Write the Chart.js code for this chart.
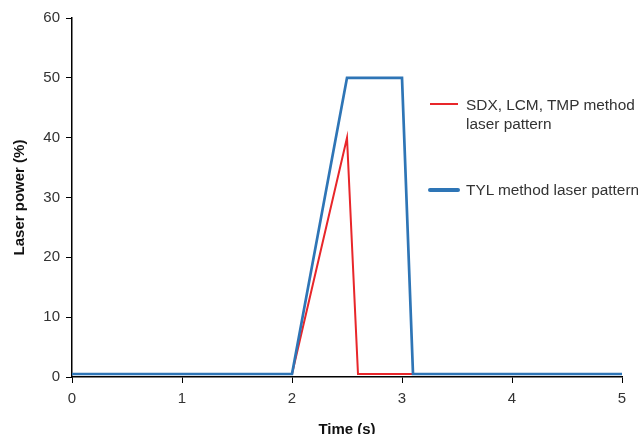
<!DOCTYPE html>
<html>
<head>
<meta charset="utf-8">
<script src="https://cdn.jsdelivr.net/npm/chart.js@4.4.1/dist/chart.umd.min.js"></script>
<style>
    html, body { margin: 0; padding: 0; background: #fff; overflow: hidden; }
    #wrap { position: relative; width: 638px; height: 434px; overflow: hidden; }
    .leg { position: absolute; font: 15.4px "Liberation Sans", Arial, sans-serif; color: #333; white-space: nowrap; line-height: 19px; }
    .swatch { position: absolute; }
</style>
</head>
<body>
<div id="wrap">
    <canvas id="chart" width="638" height="434"></canvas>
    <div class="swatch" style="left:430px; top:103px; width:28px; height:2px; background:#e8262a;"></div>
    <div class="leg" style="left:466px; top:95px;">SDX, LCM, TMP method<br>laser pattern</div>
    <div class="swatch" style="left:428px; top:188px; width:32px; height:4px; border-radius:2px; background:#2e75b6;"></div>
    <div class="leg" style="left:466px; top:180px;">TYL method laser pattern</div>
</div>
<script>
// 데이터 (시간 s, 레이저 출력 %)
const redTime = [0, 2, 2.5, 2.6, 3.1, 5];
const redPower = [0.5, 0.5, 40, 0.5, 0.5, 0.5];
const blueTime = [0, 2, 2.5, 3, 3.1, 5];
const bluePower = [0.5, 0.5, 50, 50, 0.5, 0.5];
const xTicks = [0, 1, 2, 3, 4, 5];
const yTicks = [0, 10, 20, 30, 40, 50, 60];

function toPoints(xs, ys) {
    return xs.map(function (x, i) { return { x: x, y: ys[i] }; });
}

const tickFont = { family: '"Liberation Sans", Arial, sans-serif', size: 15 };
const titleFont = { family: '"Liberation Sans", Arial, sans-serif', size: 15, weight: 'bold' };

// 파란 선이 위에 그려지도록 order 사용
const data = {
    datasets: [
        {
            label: 'SDX, LCM, TMP method laser pattern',
            data: toPoints(redTime, redPower),
            showLine: true,
            borderColor: '#e8262a',
            borderWidth: 2,
            pointRadius: 0,
            tension: 0,
            order: 2,
        },
        {
            label: 'TYL method laser pattern',
            data: toPoints(blueTime, bluePower),
            showLine: true,
            borderColor: '#2e75b6',
            borderWidth: 2.7,
            pointRadius: 0,
            tension: 0,
            order: 1,
        }
    ]
};

const config = {
    type: 'scatter',
    data: data,
    options: {
        responsive: false,
        animation: false,
        layout: {
            padding: { top: 18, right: 16, left: 0, bottom: 0 }
        },
        plugins: {
            legend: { display: false },
            tooltip: { enabled: false },
        },
        scales: {
            x: {
                type: 'linear',
                min: xTicks[0],
                max: xTicks[xTicks.length - 1],
                afterBuildTicks: function (scale) {
                    scale.ticks = xTicks.map(function (v) { return { value: v }; });
                },
                afterFit: function (scale) { scale.height = 57; },
                border: { display: true, color: '#000', width: 1.5 },
                grid: { drawOnChartArea: false, drawTicks: true, tickLength: 6, color: '#000' },
                ticks: { color: '#333', font: tickFont, padding: 7, maxRotation: 0 },
                title: {
                    display: true,
                    text: 'Time (s)',
                    color: '#111',
                    font: titleFont,
                    padding: { top: 0, bottom: -5 },
                },
            },
            y: {
                min: yTicks[0],
                max: yTicks[yTicks.length - 1],
                afterBuildTicks: function (scale) {
                    scale.ticks = yTicks.map(function (v) { return { value: v }; });
                },
                afterFit: function (scale) { scale.width = 72; },
                border: { display: true, color: '#000', width: 1.5 },
                grid: { drawOnChartArea: false, drawTicks: true, tickLength: 6, color: '#000' },
                ticks: { color: '#333', font: tickFont, padding: 6 },
                title: {
                    display: true,
                    text: 'Laser power (%)',
                    color: '#111',
                    font: titleFont,
                    padding: { top: 11, bottom: 0 },
                },
            },
        },
    },
};

var ctx = document.getElementById('chart').getContext('2d');
var myChart = new Chart(ctx, config);
</script>
</body>
</html>
